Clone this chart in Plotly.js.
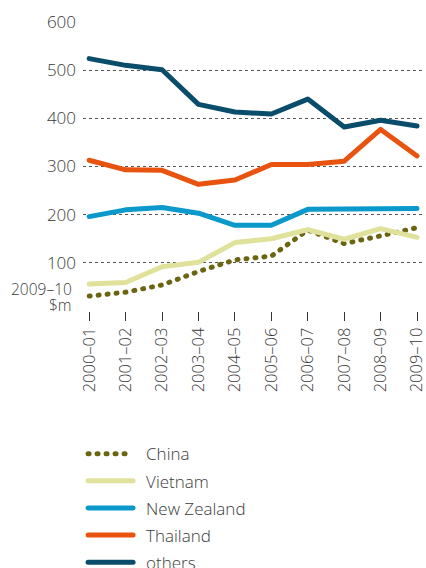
<!DOCTYPE html>
<html><head><meta charset="utf-8">
<script src="https://cdn.plot.ly/plotly-3.0.1.min.js"></script>
<style>
html,body{margin:0;padding:0;background:#fff;}
#chart{width:426px;height:568px;}
.js-line{stroke-linecap:round !important;stroke-linejoin:round !important;}
</style></head>
<body><div id="chart"></div>
<script>
const years = ["2000–01","2001–02","2002–03","2003–04","2004–05","2005–06","2006–07","2007–08","2008–09","2009–10"];
const china = [31,39,54,82,106,114,168,140,156,173];
const vietnam = [56,59,92,101,142,150,169,149,171,153];
const newZealand = [196,210,215,203,178,178,211,211,213,213];
const thailand = [313,293,292,263,272,304,304,311,377,322];
const others = [524,510,501,429,413,409,440,382,396,384];
const yTickVals = [0,100,200,300,400,500,600];
const yTickText = ["","100","200","300","400","500","600"];
const unitLines = ["2009–10","$m"];

const series = [
  {name:"China", y:china, color:"#6b6410", dash:"1px,8px"},
  {name:"Vietnam", y:vietnam, color:"#e0e19b", dash:"solid"},
  {name:"New Zealand", y:newZealand, color:"#0b98cb", dash:"solid"},
  {name:"Thailand", y:thailand, color:"#e8540f", dash:"solid"},
  {name:"others", y:others, color:"#0a4d6b", dash:"solid"}
];
const traces = series.map((s,i)=>({
  type:"scatter", mode:"lines", x:years, y:s.y, name:s.name,
  legendgroup:"g"+i,
  line:{color:s.color, width:5, dash:s.dash}
}));
const fnt = (sz)=>({family:"Open Sans, sans-serif", size:sz, color:"#3a3a3a", weight:300});
const layout = {
  width:426, height:568,
  margin:{l:83, r:2, t:22, b:257, autoexpand:false},
  paper_bgcolor:"#fff", plot_bgcolor:"#fff",
  font:fnt(17),
  showlegend:true,
  legend:{xref:"container", yref:"container", x:0.195, xanchor:"left", y:0.232, yanchor:"top",
          tracegroupgap:2, itemwidth:53,
          font:fnt(17), bgcolor:"rgba(0,0,0,0)"},
  xaxis:{type:"category", range:[-0.17,9.19], showgrid:false, zeroline:false, showline:false,
         automargin:false,
         ticks:"outside", ticklen:9, tickwidth:1, tickcolor:"#333", tickangle:-90,
         tickfont:fnt(16.5), fixedrange:true},
  yaxis:{range:[0,600], tickvals:yTickVals, ticktext:yTickText, showgrid:true, gridcolor:"#555",
         griddash:"dot", gridwidth:1, zeroline:false, showline:false, ticks:"",
         automargin:false, ticklabelstandoff:6,
         tickfont:fnt(17), fixedrange:true},
  annotations:[
    {xref:"paper", yref:"paper", x:-0.029, y:0.076, xanchor:"right", yanchor:"middle",
     showarrow:false, text:unitLines[0], borderpad:0, font:fnt(15.5)},
    {xref:"paper", yref:"paper", x:-0.029, y:0.022, xanchor:"right", yanchor:"middle",
     showarrow:false, text:unitLines[1], borderpad:0, font:fnt(15.5)}
  ]
};
Plotly.newPlot("chart", traces, layout, {displayModeBar:false, staticPlot:true}).then(()=>{
  document.querySelectorAll('.legend .legendlines path').forEach(p=>p.setAttribute('d','M5,0h45'));
});
</script></body></html>
